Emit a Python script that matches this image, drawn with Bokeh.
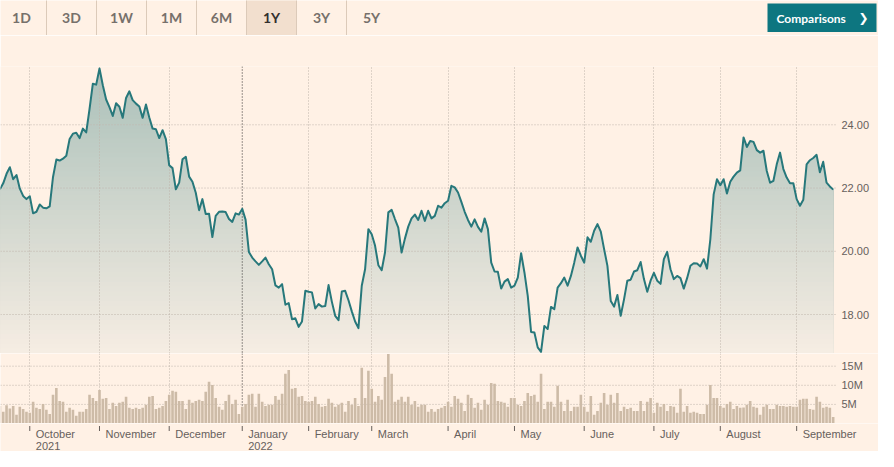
import numpy as np
from bokeh.plotting import figure
from bokeh.models import Range1d, FixedTicker, Grid, Span
from bokeh.layouts import column
from bokeh.embed import file_html
from bokeh.resources import INLINE
from bokeh.core.properties import value

BG = "#fff1e5"
GREY = "#66605c"
AXFONT = "Liberation Sans"

# ---------------- data ----------------
range_buttons = ["1D", "3D", "1W", "1M", "6M", "1Y", "3Y", "5Y"]
active_button = "1Y"
comparisons_label = "Comparisons"

# daily close (trading-day index 0 = 20 Sep 2021 ... 251 = 19 Sep 2022)
price = [
    21.96, 22.15, 22.45, 22.66, 22.28, 22.41, 21.98, 21.75, 21.65, 21.74,
    21.20, 21.25, 21.48, 21.38, 21.36, 21.42, 22.35, 22.90, 22.87, 22.93,
    23.02, 23.55, 23.72, 23.75, 23.58, 23.88, 23.76, 24.50, 25.30, 25.27,
    25.78, 25.25, 24.80, 24.56, 24.28, 24.68, 24.57, 24.22, 24.85, 25.06,
    24.78, 24.67, 24.58, 24.22, 24.64, 24.23, 23.88, 23.86, 23.58, 23.83,
    23.55, 22.72, 22.63, 21.96, 22.17, 22.91, 22.99, 22.36, 22.20, 21.85,
    21.30, 21.65, 21.18, 21.19, 20.45, 21.12, 21.25, 21.26, 21.24, 21.02,
    20.93, 21.20, 21.16, 21.34, 21.00, 19.98, 19.80, 19.68, 19.57, 19.68,
    19.80, 19.59, 19.43, 18.92, 18.85, 18.96, 18.31, 18.36, 17.85, 17.88,
    17.61, 17.78, 18.75, 18.72, 18.70, 18.19, 18.33, 18.25, 18.27, 18.93,
    18.40, 17.96, 17.82, 18.73, 18.75, 18.45, 18.10, 17.78, 17.57, 18.91,
    19.43, 20.70, 20.54, 20.18, 19.56, 19.40, 19.96, 21.23, 21.31, 21.02,
    20.75, 19.96, 20.40, 20.78, 21.04, 21.16, 20.99, 21.28, 20.96, 21.28,
    21.04, 21.12, 21.44, 21.38, 21.52, 21.60, 22.07, 22.02, 21.86, 21.56,
    21.25, 20.99, 20.78, 21.01, 20.77, 20.62, 21.04, 20.70, 19.64, 19.36,
    19.35, 18.82, 19.04, 19.12, 18.85, 18.91, 19.17, 19.94, 19.33, 18.59,
    17.45, 17.43, 16.96, 16.82, 17.64, 17.54, 18.24, 18.17, 18.85, 18.99,
    19.17, 18.91, 19.22, 19.64, 20.12, 19.86, 19.64, 20.44, 20.30, 20.65,
    20.86, 20.62, 20.07, 19.54, 18.43, 18.25, 18.62, 17.96, 18.48, 19.07,
    19.10, 19.36, 19.40, 19.66, 19.12, 18.72, 19.07, 19.32, 19.07, 18.97,
    19.75, 19.98, 19.43, 19.12, 19.22, 19.15, 18.82, 19.15, 19.54, 19.62,
    19.61, 19.52, 19.75, 19.45, 20.38, 21.80, 22.28, 22.09, 22.28, 21.83,
    22.20, 22.36, 22.49, 22.56, 23.60, 23.30, 23.49, 23.46, 23.20, 23.12,
    23.18, 22.54, 22.17, 22.23, 22.75, 23.12, 22.60, 22.33, 22.15, 22.15,
    21.65, 21.44, 21.63, 22.75, 22.88, 22.95, 23.05, 22.50, 22.83, 22.17,
    22.05, 21.95,
]

# daily volume, millions of shares
volume_m = [
    4.6, 3.05, 4.8, 3.9, 4.6, 2.3, 4.4, 3.8, 3.05, 2.8,
    5.7, 4.1, 3.8, 5.1, 3.6, 2.5, 7.5, 9.3, 5.9, 5.7,
    3.05, 4.1, 3.6, 2.0, 3.05, 3.05, 3.8, 7.5, 6.7, 5.9,
    8.8, 6.5, 6.7, 3.8, 5.4, 4.6, 5.4, 5.7, 7.0, 4.1,
    3.8, 4.1, 3.8, 4.1, 4.9, 7.0, 7.2, 3.8, 4.1, 4.6,
    5.9, 7.5, 8.6, 8.3, 5.9, 5.9, 3.8, 6.2, 5.4, 5.9,
    6.2, 5.9, 8.3, 10.9, 10.1, 6.7, 4.4, 3.6,
    5.9, 7.5, 5.1, 6.2, 2.5, 4.4, 5.1, 7.5, 7.8, 4.4,
    7.8, 5.7, 4.6, 4.9, 4.9, 7.2, 6.2, 7.8, 13.0, 14.0,
    9.1, 9.3, 7.0, 7.2, 5.9, 5.7, 5.9, 7.0, 5.1, 4.4,
    4.6, 6.5, 5.4, 4.4, 4.9, 5.4, 3.05, 5.9, 4.9, 6.7,
    4.6, 14.6, 6.7, 13.8, 9.1, 5.7, 7.2, 6.2, 12.2, 18.2,
    13.0, 5.7, 6.2, 7.0, 5.7, 7.0, 4.9, 5.9, 4.4, 4.9,
    4.9, 3.05, 3.8, 3.05, 3.8, 4.1, 4.6, 5.7, 4.4,
    7.2, 6.5, 5.4, 3.3, 7.5, 6.7, 4.1, 5.4, 3.6, 6.2,
    4.9, 10.6, 10.4, 5.9, 5.7, 5.4, 4.4, 6.7, 6.7, 4.9,
    4.6, 5.9, 8.0, 7.2, 7.5, 5.7, 13.0, 3.8, 5.7, 5.7,
    4.4, 9.9, 5.7, 3.3, 6.2, 3.3, 4.4, 4.4, 7.5, 4.4,
    3.05, 7.2, 2.3, 3.3, 5.4, 8.0, 4.9, 7.5, 5.4, 8.0,
    3.3, 4.4, 3.8, 4.1, 3.3, 3.3, 5.9, 3.3, 5.7, 6.7,
    2.8, 5.4, 4.4, 5.1, 3.3, 4.6, 4.4, 2.8, 9.1, 3.05,
    4.6, 2.8, 3.05, 2.8, 2.5, 2.5, 4.9, 10.1, 6.7, 6.7,
    4.6, 4.1, 5.1, 5.7, 3.8, 4.6, 4.1, 4.2, 4.9, 5.9,
    4.4, 4.1, 2.3, 4.4, 4.9, 3.8, 3.8, 4.9, 4.6, 4.6,
    4.4, 4.6, 4.4, 4.4, 6.2, 6.5, 6.5, 3.8, 3.6, 7.0,
    5.7, 4.1, 4.4, 4.1, 1.7,
]
assert len(price) == len(volume_m) == 252

month_tick_idx = [9, 30, 51, 73, 93, 112, 135, 155, 176, 197, 217, 240]
month_labels = ["October", "November", "December", "January", "February", "March",
                "April", "May", "June", "July", "August", "September"]
year_tick_idx = [9, 73]
year_labels = ["2021", "2022"]
year_boundary_idx = 73
price_ticks = [18, 20, 22, 24]
volume_ticks = [5e6, 10e6, 15e6]
volume_tick_labels = ["5M", "10M", "15M"]

W = 878
RIGHT = 43                      # px to the right of the plotting area for the value labels
common = dict(toolbar_location=None, output_backend="svg",
              x_axis_location=None, y_axis_location=None, min_border=0,
              background_fill_color=BG, border_fill_color=BG, outline_line_color=None)

# ---------------- range buttons strip ----------------
bf = figure(width=W, height=35, x_range=Range1d(8, 886), y_range=Range1d(43, 8), **common)
bf.grid.visible = False

centers = [29 + 50 * k for k in range(len(range_buttons))]
act = range_buttons.index(active_button)
bf.quad(left=[centers[act] - 25], right=[centers[act] + 25], top=[6], bottom=[43],
        fill_color="#f2dfce", line_color=None)
bf.segment(x0=[c + 25 for c in centers[:-1]], y0=7, x1=[c + 25 for c in centers[:-1]], y1=43,
           line_color="#dccab9", line_width=1)
bf.text(x=centers, y=25, text=range_buttons, text_align="center", text_baseline="middle",
        text_font=value("Lato"), text_font_size="14px", text_font_style="bold",
        text_color=["#33302e" if b == active_button else "#76706b" for b in range_buttons])
bf.quad(left=[775], right=[884], top=[11], bottom=[39.5], fill_color="#0d7680", line_color=None)
bf.text(x=[784], y=[25.5], text=[comparisons_label], text_align="left", text_baseline="middle",
        text_font=value("Lato"), text_font_size="12px", text_font_style="bold", text_color="white")
bf.text(x=[871], y=[25.5], text=["\u276f"], text_align="center", text_baseline="middle",
        text_font=value("DejaVu Sans"), text_font_size="12px", text_font_style="bold",
        text_color="white")

# ---------------- shared x scale ----------------
x_start, x_plot_end = 0.18, 251.7          # visible trading-day span of the plotting area
xr = Range1d(x_start, x_start + (x_plot_end - x_start) * W / (W - RIGHT))
idx = np.arange(len(price))
pr = np.array(price)
vol = np.array(volume_m) * 1e6
GRID_C = "#bfb5ab"
month_grid = [m for m in month_tick_idx if m != year_boundary_idx]


def add_common_guides(fig):
    fig.add_layout(Grid(dimension=0, ticker=FixedTicker(ticks=month_grid), grid_line_color=GRID_C,
                        grid_line_dash="1 2", grid_line_width=1))
    fig.add_layout(Span(location=year_boundary_idx, dimension="height", line_color="#33302e",
                        line_dash="1 2", line_width=1, level="underlay"))


def hgrid(fig, ticks):
    fig.segment(x0=x_start, x1=x_plot_end, y0=ticks, y1=ticks, line_color=GRID_C,
                line_dash="1 2", line_width=1)


def value_labels(fig, ticks, labels):
    fig.text(x=[x_plot_end] * len(ticks), y=ticks, text=labels, x_offset=6,
             text_align="left", text_baseline="middle", text_font=value(AXFONT),
             text_font_size="11px", text_color=GREY)


# ---------------- price panel ----------------
yr = Range1d(16.767, 25.844)
p = figure(width=W, height=318, x_range=xr, y_range=yr, **{**common, "min_border_top": 31})
p.grid.visible = False

nb = 60
edges = np.linspace(yr.start, yr.end, nb + 1)
c_top = np.array([170, 192, 185])
c_bot = np.array([246, 237, 227])
for k in range(nb - 1, -1, -1):
    t = (0.5 * (edges[k] + edges[k + 1]) - yr.start) / (yr.end - yr.start)
    c = (c_bot + (c_top - c_bot) * t).round().astype(int)
    p.varea(x=idx, y1=yr.start, y2=np.minimum(pr, edges[k + 1]),
            fill_color="#%02x%02x%02x" % tuple(c), level="image")

add_common_guides(p)
hgrid(p, price_ticks)
p.line(idx, pr, line_color="#27787b", line_width=2, line_join="round")
value_labels(p, price_ticks, ["%.2f" % t for t in price_ticks])

# ---------------- volume panel ----------------
v = figure(width=W, height=70, x_range=xr, y_range=Range1d(0, 18.32e6), **common)
v.grid.visible = False
add_common_guides(v)
hgrid(v, volume_ticks)
v.vbar(x=idx, top=vol, bottom=0, width=0.78, fill_color="#cdbba7", line_color=None)
value_labels(v, volume_ticks, volume_tick_labels)

# ---------------- month / year labels ----------------
lab = figure(width=W, height=28, x_range=xr, y_range=Range1d(28, 0), **common)
lab.grid.visible = False
lab.segment(x0=month_tick_idx, y0=2.5, x1=month_tick_idx, y1=7.5, line_color=GREY, line_width=1)
lab.text(x=month_tick_idx, y=10.5, text=month_labels, x_offset=6,
         text_align="left", text_baseline="middle", text_font=value(AXFONT),
         text_font_size="11px", text_color=GREY)
lab.text(x=year_tick_idx, y=22.5, text=year_labels, x_offset=6,
         text_align="left", text_baseline="middle", text_font=value(AXFONT),
         text_font_size="11px", text_color=GREY)

layout = column(bf, p, v, lab)
open("out.html", "w").write(file_html(layout, INLINE))
